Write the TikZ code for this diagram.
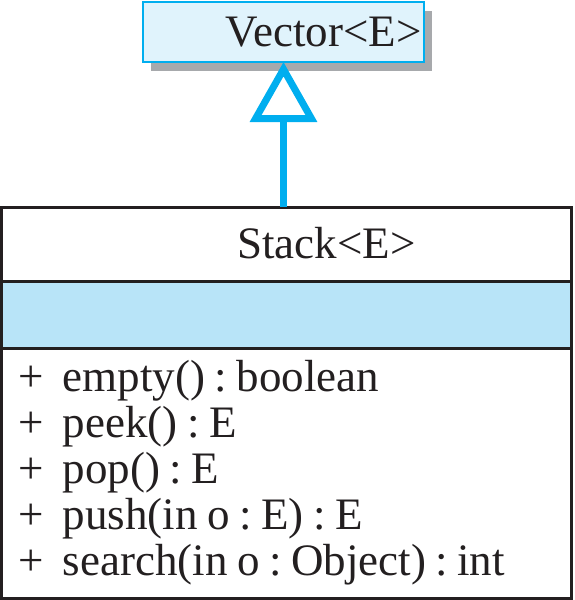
\documentclass[tikz,border=0pt]{standalone}
\usepackage{fontspec}
\setmainfont{Liberation Serif}
\usepackage{tikz}
\usetikzlibrary{arrows.meta,positioning,shadows}

\definecolor{umlcyan}{RGB}{0,174,239}
\definecolor{umlpale}{RGB}{224,243,252}
\definecolor{umlattr}{RGB}{184,228,248}
\definecolor{umlshadow}{RGB}{167,169,172}
\definecolor{umlink}{RGB}{35,31,32}

\begin{document}
\frenchspacing
\begin{tikzpicture}[
    x=1pt, y=-1pt,
    % --- STYLES ---
    umlfont/.style={font=\fontsize{45}{46}\selectfont, text=umlink},
    superclass/.style={
        rectangle, draw=umlcyan, fill=umlpale,
        line width=2.5pt, outer sep=0pt,
        minimum width=281pt, minimum height=60pt,
        inner sep=0pt, umlfont,
        text height=29pt, text depth=0pt,
        drop shadow={shadow xshift=8pt, shadow yshift=-9pt,
                     fill=umlshadow, opacity=1}
    },
    compartment/.style={
        rectangle, draw=umlink, line width=3pt,
        outer sep=0pt, inner sep=0pt,
        minimum width=570pt, umlfont
    },
    namepart/.style={compartment, fill=white, minimum height=74pt,
                     text height=29pt, text depth=0pt},
    attrpart/.style={compartment, fill=umlattr, minimum height=67pt},
    methpart/.style={compartment, fill=white, minimum height=250pt,
                     inner xsep=17pt, text width=536pt, align=left,
                     execute at begin node={\spaceskip=0.21em\relax}},
    inherit/.style={draw=umlcyan, line width=7pt,
                    -{Triangle[open, fill=white, length=60pt, width=66pt]}}
]

\useasboundingbox (0,0) rectangle (574,600);

% ===== 1. SUPERCLASS =====
\def\namepad{\hspace*{80pt}}
\def\plusgap{\hspace{0.42em}}

\node[superclass] (vector) at (283.5, 32) {\namepad Vector<E>};

% ===== 2. SUBCLASS COMPARTMENTS =====
\node[namepart] (stack) at (286.5, 244) {\namepad Stack<E>};

\node[attrpart, below=0pt of stack] (stackattr) {};

\node[methpart, below=0pt of stackattr] (stackmeth) {%
    +\plusgap empty() : boolean\\
    +\plusgap peek() : E\\
    +\plusgap pop() : E\\
    +\plusgap push(in o : E) : E\\
    +\plusgap search(in o : Object) : int};

% ===== 3. CONNECTIONS =====
\draw[inherit] (stack.north -| vector.south) -- (vector.south);

\end{tikzpicture}
\end{document}
